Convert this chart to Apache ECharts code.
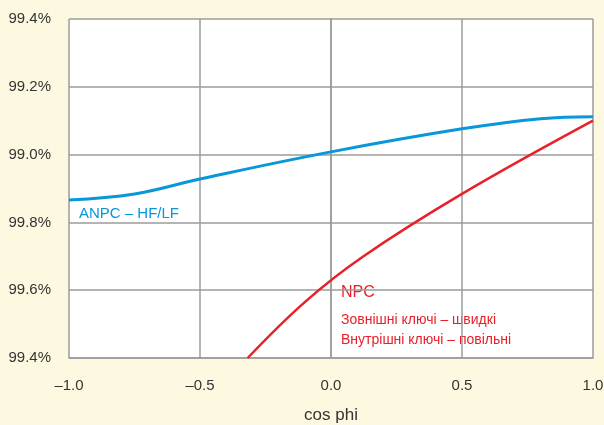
<!DOCTYPE html>
<html>
<head>
<meta charset="utf-8">
<script src="https://cdn.jsdelivr.net/npm/echarts@6/dist/echarts.min.js"></script>
<style>
  html, body { margin: 0; padding: 0; background: #fdf9e0; }
  #chart { width: 604px; height: 425px; }
</style>
</head>
<body>
<div id="chart"></div>
<script>
  // ККД залежно від cos phi
  var anpcX = [-1.0, -0.75, -0.5, 0.0, 0.5, 0.8, 1.0]
  var anpcY = [98.866, 98.884, 98.928, 99.008, 99.076, 99.106, 99.112]
  var npcX = [-0.318, -0.1, 0.12, 0.5, 1.0]
  var npcY = [98.4, 98.565, 98.698, 98.884, 99.10]
  // підписи осей (як на оригіналі)
  var yTickLabels = ['99.4%', '99.6%', '99.8%', '99.0%', '99.2%', '99.4%']
  var xTickLabels = ['\u20131.0', '\u20130.5', '0.0', '0.5', '1.0']

  function pairs(xs, ys) {
    return xs.map(function (x, i) { return [x, ys[i]] })
  }

  var font = '"Liberation Sans", Arial, sans-serif'
  var chart = echarts.init(document.getElementById('chart'))
  chart.setOption({
    backgroundColor: '#fdf9e0',
    animation: false,
    grid: {
      left: 69, right: 11, top: 19, bottom: 67,
      outerBoundsMode: 'none',
      show: true, backgroundColor: '#ffffff', borderWidth: 0
    },
    xAxis: {
      type: 'value', min: -1, max: 1, interval: 0.5,
      name: 'cos phi', nameLocation: 'middle', nameGap: 49,
      nameTextStyle: { color: '#333', fontSize: 17, fontFamily: font },
      axisLine: { show: true, lineStyle: { color: '#9b9b9b', width: 1.5 } },
      axisTick: { show: false },
      axisLabel: {
        color: '#333', fontSize: 15, fontFamily: font, margin: 20,
        formatter: function (v) { return xTickLabels[Math.round((v + 1) / 0.5)] }
      },
      splitLine: { show: true, lineStyle: { color: '#9b9b9b', width: 1.5 } }
    },
    yAxis: {
      type: 'value', min: 98.4, max: 99.4, interval: 0.2,
      axisLine: { show: true, lineStyle: { color: '#9b9b9b', width: 1.5 } },
      axisTick: { show: false },
      axisLabel: {
        color: '#333', fontSize: 15, fontFamily: font, margin: 18,
        formatter: function (v) { return yTickLabels[Math.round((v - 98.4) / 0.2)] }
      },
      splitLine: { show: true, lineStyle: { color: '#9b9b9b', width: 1.5 } }
    },
    series: [{
      name: 'ANPC', type: 'line', smooth: 0.4, symbol: 'none',
      lineStyle: { color: '#0897d8', width: 3 },
      data: pairs(anpcX, anpcY)
    }, {
      name: 'NPC', type: 'line', smooth: 0.4, symbol: 'none',
      lineStyle: { color: '#e8202a', width: 2.5 },
      data: pairs(npcX, npcY)
    }],
    graphic: [
      { type: 'text', style: { text: 'ANPC \u2013 HF/LF', x: 79, y: 214, textVerticalAlign: 'middle', font: '15px ' + font, fill: '#0897d8' } },
      { type: 'text', style: { text: 'NPC', x: 341, y: 293, textVerticalAlign: 'middle', font: '16px ' + font, fill: '#e8202a' } },
      { type: 'text', style: { text: 'Зовнішні ключі \u2013 швидкі', x: 341, y: 320, textVerticalAlign: 'middle', font: '14px ' + font, fill: '#e8202a' } },
      { type: 'text', style: { text: 'Внутрішні ключі \u2013 повільні', x: 341, y: 340, textVerticalAlign: 'middle', font: '14px ' + font, fill: '#e8202a' } }
    ]
  })
</script>
</body>
</html>
